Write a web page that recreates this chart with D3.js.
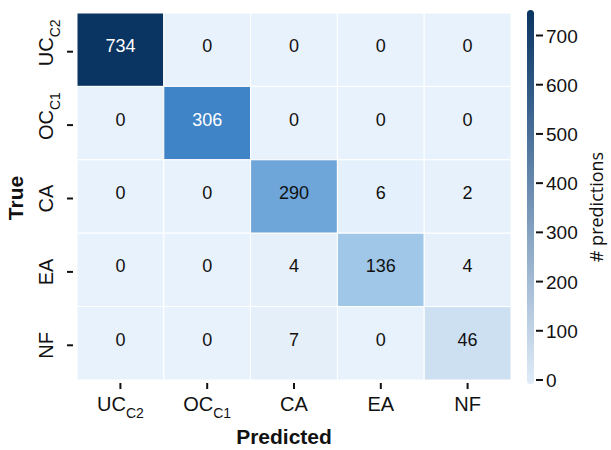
<!DOCTYPE html>
<html>
<head>
<meta charset="utf-8">
<script src="https://cdn.jsdelivr.net/npm/d3@7"></script>
<style>
  html, body { margin: 0; padding: 0; background: #fff; }
  svg { display: block; }
  text { font-family: "Liberation Sans", Arial, sans-serif; fill: #111; }
</style>
</head>
<body>
<svg id="chart" width="611" height="450"></svg>
<script>
// Confusion matrix: rows = true class, columns = predicted class
const classNames = ["UC", "OC", "CA", "EA", "NF"];
const classSubs  = ["C2", "C1", "", "", ""];
const counts = [
  [734,   0,   0,   0,  0],
  [  0, 306,   0,   0,  0],
  [  0,   0, 290,   6,  2],
  [  0,   0,   4, 136,  4],
  [  0,   0,   7,   0, 46]
];
const colorbarTicks = [0, 100, 200, 300, 400, 500, 600, 700];

const svg = d3.select("#chart");

// Heatmap area
const plotLeft = 77, plotRight = 511, plotTop = 13, plotBottom = 380;
const idx = d3.range(classNames.length);
const x = d3.scaleBand().domain(idx).range([plotLeft, plotRight]);
const y = d3.scaleBand().domain(idx).range([plotTop, plotBottom]);

// Blue colour ramp for the cells
const cellColor = d3.scaleLinear()
  .domain([0, 46, 136, 290, 306, 734])
  .range(["#e8f2fc", "#cde0f1", "#a0c6e8", "#6ea6d9", "#3f84c6", "#0a3461"])
  .interpolate(d3.interpolateRgb);

const cells = [];
counts.forEach((row, r) => row.forEach((v, c) => cells.push({ r, c, v })));

svg.append("g").selectAll("rect").data(cells).join("rect")
  .attr("x", d => x(d.c))
  .attr("y", d => y(d.r))
  .attr("width", x.bandwidth())
  .attr("height", y.bandwidth())
  .attr("fill", d => cellColor(d.v))
  .attr("stroke", "#ffffff")
  .attr("stroke-width", 1);

svg.append("g").selectAll("text").data(cells).join("text")
  .attr("x", d => x(d.c) + x.bandwidth() / 2)
  .attr("y", d => y(d.r) + y.bandwidth() / 2 + 2.5)
  .attr("text-anchor", "middle")
  .style("font-size", "18px")
  .style("fill", d => d.v > 300 ? "#ffffff" : "#111111")
  .text(d => d.v);

// X axis (predicted)
const xAxis = svg.append("g");
idx.forEach(i => {
  const cx = x(i) + x.bandwidth() / 2;
  xAxis.append("line")
    .attr("x1", cx).attr("x2", cx).attr("y1", 383).attr("y2", 389)
    .attr("stroke", "#111").attr("stroke-width", 2);
  const t = xAxis.append("text")
    .attr("x", cx).attr("y", 411)
    .attr("text-anchor", "middle")
    .style("font-size", "20px");
  t.append("tspan").text(classNames[i]);
  if (classSubs[i]) {
    t.append("tspan").attr("dy", 7).style("font-size", "14px").text(classSubs[i]);
  }
});

// Y axis (true)
const yAxis = svg.append("g");
idx.forEach(i => {
  const cy = y(i) + y.bandwidth() / 2 + 2;
  yAxis.append("line")
    .attr("x1", 67).attr("x2", 73).attr("y1", cy).attr("y2", cy)
    .attr("stroke", "#111").attr("stroke-width", 2);
  const t = yAxis.append("text")
    .attr("transform", `translate(53,${cy}) rotate(-90)`)
    .attr("text-anchor", "start")
    .style("font-size", "20px");
  t.append("tspan").text(classNames[i]);
  if (classSubs[i]) {
    t.append("tspan").attr("dy", 7).style("font-size", "14px").text(classSubs[i]);
  }
  // centre the main letters on the tick
  const w = t.node().getSubStringLength(0, classNames[i].length);
  t.attr("x", -w / 2);
});

svg.append("text")
  .attr("x", 284).attr("y", 444)
  .attr("text-anchor", "middle")
  .style("font-size", "21px").style("font-weight", "bold")
  .text("Predicted");

svg.append("text")
  .attr("transform", "translate(23,198) rotate(-90)")
  .attr("text-anchor", "middle")
  .style("font-size", "21px").style("font-weight", "bold")
  .text("True");

// Colour bar
const cb = d3.scaleLinear().domain([0, 700]).range([380, 35.5]);
const defs = svg.append("defs");
const grad = defs.append("linearGradient")
  .attr("id", "cbar").attr("x1", 0).attr("x2", 0).attr("y1", 1).attr("y2", 0);
const gradStops = [
  [0.00, "#e0ecf8"], [0.25, "#a9c0d8"], [0.50, "#6f90b3"],
  [0.75, "#375f8c"], [1.00, "#0a3461"]
];
gradStops.forEach(([o, c]) => grad.append("stop").attr("offset", o).attr("stop-color", c));

svg.append("rect")
  .attr("x", 527).attr("y", 10)
  .attr("width", 7).attr("height", 374)
  .attr("rx", 3.5)
  .attr("fill", "url(#cbar)");

const cbAxis = svg.append("g");
colorbarTicks.forEach(v => {
  cbAxis.append("line")
    .attr("x1", 536).attr("x2", 543).attr("y1", cb(v)).attr("y2", cb(v))
    .attr("stroke", "#111").attr("stroke-width", 2);
  cbAxis.append("text")
    .attr("x", 546).attr("y", cb(v) + 7)
    .style("font-size", "19px")
    .text(v);
});

svg.append("text")
  .attr("transform", "translate(603,207) rotate(-90)")
  .attr("text-anchor", "middle")
  .style("font-family", "'Open Sans', sans-serif")
  .style("font-size", "18px")
  .text("# predictions");
</script>
</body>
</html>
